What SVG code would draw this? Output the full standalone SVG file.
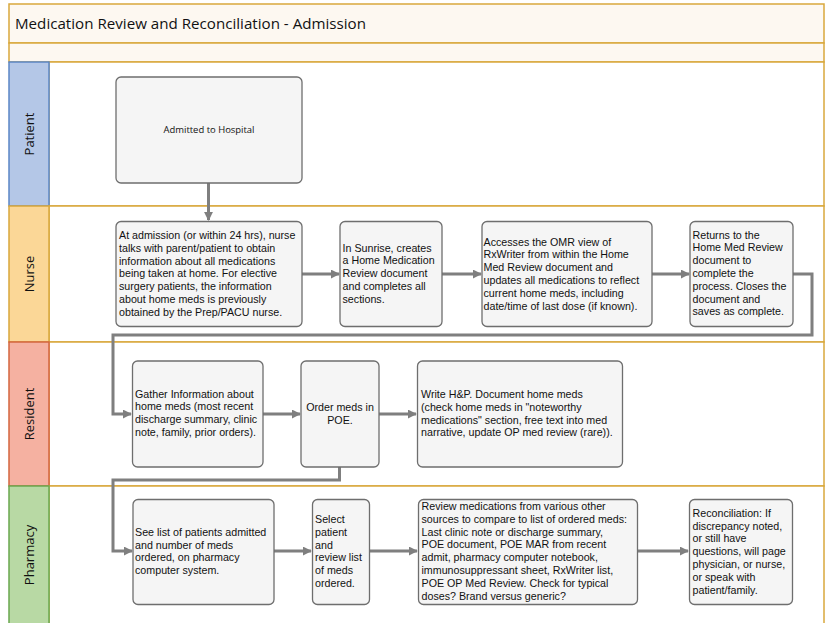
<svg xmlns="http://www.w3.org/2000/svg" width="826" height="623" viewBox="0 0 826 623">
<style>
.lane{fill:#ffffff;stroke:#d9a83c;stroke-width:1.5}
.band{fill:#fdf8f1;stroke:#d9a83c;stroke-width:1.5}
.lbl{font-family:"Open Sans","Noto Sans",sans-serif;font-size:13px;fill:#111;text-anchor:middle;dominant-baseline:central}
.title{font-family:"Open Sans","Noto Sans",sans-serif;font-size:14px;fill:#111}
.box{fill:#f5f5f5;stroke:#6e6e6e;stroke-width:1.3}
.t{font-family:"Liberation Sans",Arial,sans-serif;font-size:10.7px;fill:#111}
.tc{font-family:"Liberation Sans",Arial,sans-serif;font-size:10.7px;fill:#111;text-anchor:middle}
.conn{fill:none;stroke:#7f7f7f;stroke-width:3;stroke-linejoin:miter}
</style>
<defs>
<marker id="ah" viewBox="0 0 10 10" refX="9" refY="5" markerWidth="9" markerHeight="9" markerUnits="userSpaceOnUse" orient="auto">
<path d="M0,0 L10,5 L0,10 Z" fill="#7f7f7f"/>
</marker>
</defs>
<rect width="826" height="623" fill="#ffffff"/>
<g id="pool">
<rect class="band" x="9" y="4" width="815" height="39"/>
<text class="title" x="15" y="29" textLength="351" lengthAdjust="spacingAndGlyphs">Medication Review and Reconciliation - Admission</text>
<rect class="band" x="9" y="43" width="815" height="19"/>
</g>
<g id="lane-patient">
<rect class="lane" x="49" y="62" width="775" height="144"/>
<rect x="9" y="62" width="40" height="144" fill="#b4c7e7" stroke="#5b87c6" stroke-width="1.5"/>
<text class="lbl" transform="translate(29,134) rotate(-90)">Patient</text>
</g>
<g id="lane-nurse">
<rect class="lane" x="49" y="206" width="775" height="136"/>
<rect x="9" y="206" width="40" height="136" fill="#fbd797" stroke="#d9a83c" stroke-width="1.5"/>
<text class="lbl" transform="translate(29,274) rotate(-90)">Nurse</text>
</g>
<g id="lane-resident">
<rect class="lane" x="49" y="342" width="775" height="144"/>
<rect x="9" y="342" width="40" height="144" fill="#f5b1a1" stroke="#d3653f" stroke-width="1.5"/>
<text class="lbl" transform="translate(29,414) rotate(-90)">Resident</text>
</g>
<g id="lane-pharmacy">
<rect class="lane" x="49" y="486" width="775" height="140"/>
<rect x="9" y="486" width="40" height="140" fill="#b8d9a4" stroke="#6aa84f" stroke-width="1.5"/>
<text class="lbl" transform="translate(29,555) rotate(-90)">Pharmacy</text>
</g>
<g id="connectors">
<path class="conn" d="M208.5,183 V220" marker-end="url(#ah)"/>
<path class="conn" d="M302,274 H339" marker-end="url(#ah)"/>
<path class="conn" d="M442,274 H481" marker-end="url(#ah)"/>
<path class="conn" d="M652,274 H689" marker-end="url(#ah)"/>
<path class="conn" d="M793,274 H812 V335 H113 V414 H131" marker-end="url(#ah)"/>
<path class="conn" d="M263,414 H300" marker-end="url(#ah)"/>
<path class="conn" d="M379,414 H416" marker-end="url(#ah)"/>
<path class="conn" d="M339.5,467 V480 H113 V551 H132" marker-end="url(#ah)"/>
<path class="conn" d="M274,551 H311" marker-end="url(#ah)"/>
<path class="conn" d="M369,551 H417" marker-end="url(#ah)"/>
<path class="conn" d="M637,551 H688" marker-end="url(#ah)"/>
</g>
<g id="n-admitted">
<rect class="box" x="116" y="77" width="186" height="106" rx="5"/>
<text x="209" y="133" text-anchor="middle" font-family="'Open Sans','Noto Sans',sans-serif" font-size="8.7" fill="#111" textLength="91" lengthAdjust="spacingAndGlyphs">Admitted to Hospital</text>
</g>
<g id="n-nurse1">
<rect class="box" x="116" y="221.5" width="186" height="105" rx="5"/>
<text class="t"><tspan x="119" y="239">At admission (or within 24 hrs), nurse</tspan><tspan x="119" y="251.8">talks with parent/patient to obtain</tspan><tspan x="119" y="264.6">information about all medications</tspan><tspan x="119" y="277.4">being taken at home. For elective</tspan><tspan x="119" y="290.2">surgery patients, the information</tspan><tspan x="119" y="303">about home meds is previously</tspan><tspan x="119" y="315.8">obtained by the Prep/PACU nurse.</tspan></text>
</g>
<g id="n-nurse2">
<rect class="box" x="340" y="221.5" width="102" height="105" rx="5"/>
<text class="t"><tspan x="342.5" y="251.5">In Sunrise, creates</tspan><tspan x="342.5" y="264.3">a Home Medication</tspan><tspan x="342.5" y="277.1">Review document</tspan><tspan x="342.5" y="289.9">and completes all</tspan><tspan x="342.5" y="302.7">sections.</tspan></text>
</g>
<g id="n-nurse3">
<rect class="box" x="482" y="221.5" width="170" height="105" rx="5"/>
<text class="t"><tspan x="483.5" y="245.5">Accesses the OMR view of</tspan><tspan x="483.5" y="258.3">RxWriter from within the Home</tspan><tspan x="483.5" y="271.1">Med Review document and</tspan><tspan x="483.5" y="283.9">updates all medications to reflect</tspan><tspan x="483.5" y="296.7">current home meds, including</tspan><tspan x="483.5" y="309.5">date/time of last dose (if known).</tspan></text>
</g>
<g id="n-nurse4">
<rect class="box" x="690" y="221.5" width="103" height="105" rx="5"/>
<text class="t"><tspan x="692.5" y="238.5">Returns to the</tspan><tspan x="692.5" y="251.3">Home Med Review</tspan><tspan x="692.5" y="264.1">document to</tspan><tspan x="692.5" y="276.9">complete the</tspan><tspan x="692.5" y="289.7">process. Closes the</tspan><tspan x="692.5" y="302.5">document and</tspan><tspan x="692.5" y="315.3">saves as complete.</tspan></text>
</g>
<g id="n-res1">
<rect class="box" x="132.5" y="361" width="130.5" height="106" rx="5"/>
<text class="t"><tspan x="135" y="397.5">Gather Information about</tspan><tspan x="135" y="410.3">home meds (most recent</tspan><tspan x="135" y="423.1">discharge summary, clinic</tspan><tspan x="135" y="435.9">note, family, prior orders).</tspan></text>
</g>
<g id="n-res2">
<rect class="box" x="301" y="361" width="78" height="106" rx="5"/>
<text class="tc"><tspan x="340" y="410.8">Order meds in</tspan><tspan x="340" y="424">POE.</tspan></text>
</g>
<g id="n-res3">
<rect class="box" x="417.5" y="361" width="205" height="106" rx="5"/>
<text class="t"><tspan x="421" y="398">Write H&amp;P. Document home meds</tspan><tspan x="421" y="410.8">(check home meds in "noteworthy</tspan><tspan x="421" y="423.6">medications" section, free text into med</tspan><tspan x="421" y="436.4">narrative, update OP med review (rare)).</tspan></text>
</g>
<g id="n-ph1">
<rect class="box" x="133" y="499.5" width="141" height="105" rx="5"/>
<text class="t"><tspan x="135" y="535.7">See list of patients admitted</tspan><tspan x="135" y="548.5">and number of meds</tspan><tspan x="135" y="561.3">ordered, on pharmacy</tspan><tspan x="135" y="574.1">computer system.</tspan></text>
</g>
<g id="n-ph2">
<rect class="box" x="312.5" y="499.5" width="57" height="105" rx="5"/>
<text class="t"><tspan x="315" y="523">Select</tspan><tspan x="315" y="535.8">patient</tspan><tspan x="315" y="548.6">and</tspan><tspan x="315" y="561.4">review list</tspan><tspan x="315" y="574.2">of meds</tspan><tspan x="315" y="587">ordered.</tspan></text>
</g>
<g id="n-ph3">
<rect class="box" x="418.5" y="499.5" width="219" height="105" rx="5"/>
<text class="t"><tspan x="421.5" y="510">Review medications from various other</tspan><tspan x="421.5" y="522.8">sources to compare to list of ordered meds:</tspan><tspan x="421.5" y="535.6">Last clinic note or discharge summary,</tspan><tspan x="421.5" y="548.4">POE document, POE MAR from recent</tspan><tspan x="421.5" y="561.2">admit, pharmacy computer notebook,</tspan><tspan x="421.5" y="574">immunosuppressant sheet, RxWriter list,</tspan><tspan x="421.5" y="586.8">POE OP Med Review. Check for typical</tspan><tspan x="421.5" y="599.6">doses? Brand versus generic?</tspan></text>
</g>
<g id="n-ph4">
<rect class="box" x="689.5" y="499.5" width="103" height="105" rx="5"/>
<text class="t"><tspan x="692.5" y="516.7">Reconciliation: If</tspan><tspan x="692.5" y="529.5">discrepancy noted,</tspan><tspan x="692.5" y="542.3">or still have</tspan><tspan x="692.5" y="555.1">questions, will page</tspan><tspan x="692.5" y="567.9">physician, or nurse,</tspan><tspan x="692.5" y="580.7">or speak with</tspan><tspan x="692.5" y="593.5">patient/family.</tspan></text>
</g>
</svg>
